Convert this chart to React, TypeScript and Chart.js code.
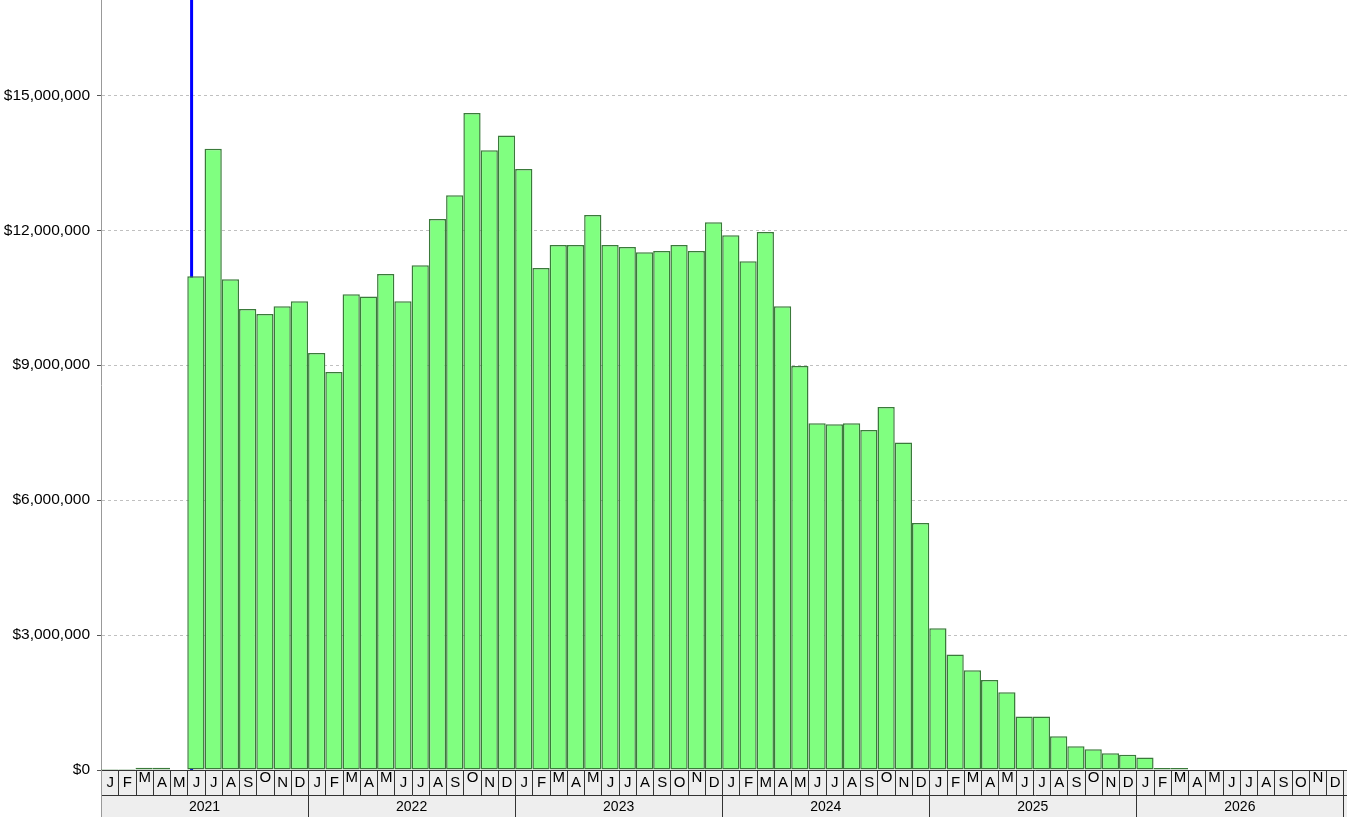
import { useEffect, useRef } from "react";
import { Chart, registerables } from "chart.js";

Chart.register(...registerables);

const years = ["2021", "2022", "2023", "2024", "2025", "2026"];
const monthLetters = ["J", "F", "M", "A", "M", "J", "J", "A", "S", "O", "N", "D"];

const values2021 = [20000, 20000, 50000, 50000, 10000, 10980000, 13810000, 10910000, 10250000, 10140000, 10310000, 10420000];
const values2022 = [9270000, 8850000, 10580000, 10530000, 11030000, 10420000, 11220000, 12250000, 12780000, 14610000, 13780000, 14110000];
const values2023 = [13360000, 11160000, 11670000, 11670000, 12340000, 11670000, 11630000, 11510000, 11540000, 11670000, 11540000, 12180000];
const values2024 = [11890000, 11310000, 11960000, 10310000, 8980000, 7710000, 7690000, 7710000, 7560000, 8070000, 7280000, 5490000];
const values2025 = [3150000, 2570000, 2220000, 2000000, 1730000, 1190000, 1190000, 750000, 530000, 460000, 370000, 340000];
const values2026 = [280000, 45000, 45000, 0, 0, 0, 0, 0, 0, 0, 0, 0];

const yTickValues = [0, 3000000, 6000000, 9000000, 12000000, 15000000];
const yMax = 17120000;
const xMaxMonths = 72.21;
const markerMonth = 5.25;
// month labels that the reference draws nudged upward
const raisedLabelIndexes = [2, 9, 14, 16, 21, 26, 28, 34, 45, 50, 52, 57, 62, 64, 70];

const allValues = [...values2021, ...values2022, ...values2023, ...values2024, ...values2025, ...values2026];

const FONT = '"Liberation Sans", Arial, Helvetica, sans-serif';

const markerPlugin = {
  id: "markerLine",
  beforeDatasetsDraw(chart: any) {
    const { ctx, chartArea } = chart;
    const xs = chart.scales.x;
    const px = xs.getPixelForValue(markerMonth);
    ctx.save();
    ctx.strokeStyle = "#0000ff";
    ctx.lineWidth = 3;
    ctx.beginPath();
    ctx.moveTo(px, chartArea.top);
    ctx.lineTo(px, chartArea.bottom);
    ctx.stroke();
    ctx.restore();
  },
};

const periodAxisPlugin = {
  id: "periodAxis",
  afterDraw(chart: any) {
    const { ctx, chartArea } = chart;
    const xs = chart.scales.x;
    const top = chartArea.bottom;
    const mid = top + 25;
    const bottom = chart.height;
    const left = chartArea.left;
    const right = chart.width;
    ctx.save();
    ctx.beginPath();
    ctx.rect(left, top, right - left, bottom - top);
    ctx.clip();
    ctx.fillStyle = "#eeeeee";
    ctx.fillRect(left, top, right - left, bottom - top);

    ctx.strokeStyle = "#333333";
    ctx.lineWidth = 1;
    ctx.beginPath();
    ctx.moveTo(left, Math.round(top) + 0.5);
    ctx.lineTo(right, Math.round(top) + 0.5);
    ctx.moveTo(left, Math.round(mid) + 0.5);
    ctx.lineTo(right, Math.round(mid) + 0.5);
    ctx.stroke();

    const totalMonths = years.length * 12 + 1;
    ctx.font = "15px " + FONT;
    ctx.fillStyle = "#000000";
    ctx.textAlign = "center";
    ctx.textBaseline = "middle";
    for (let i = 0; i < totalMonths; i++) {
      const x0 = xs.getPixelForValue(i);
      const x1 = xs.getPixelForValue(i + 1);
      ctx.beginPath();
      ctx.moveTo(Math.round(x1) + 0.5, top);
      ctx.lineTo(Math.round(x1) + 0.5, mid);
      ctx.stroke();
      const letter = monthLetters[i % 12];
      const raised = raisedLabelIndexes.includes(i);
      ctx.fillText(letter, (x0 + x1) / 2 + 0.5, raised ? top + 8 : top + 12.5);
    }

    ctx.font = "14px " + FONT;
    for (let y = 0; y <= years.length; y++) {
      const x0 = xs.getPixelForValue(y * 12);
      const x1 = xs.getPixelForValue((y + 1) * 12);
      if (y > 0) {
        ctx.beginPath();
        ctx.moveTo(Math.round(x0) + 0.5, mid);
        ctx.lineTo(Math.round(x0) + 0.5, bottom);
        ctx.stroke();
      }
      if (y < years.length) {
        ctx.fillText(years[y], (x0 + x1) / 2, mid + 12);
      }
    }
    ctx.restore();

    ctx.save();
    ctx.strokeStyle = "#999999";
    ctx.lineWidth = 1;
    ctx.beginPath();
    ctx.moveTo(left + 0.5, top);
    ctx.lineTo(left + 0.5, bottom);
    ctx.stroke();
    ctx.restore();
  },
};

export default function App() {
  const canvasRef = useRef<HTMLCanvasElement | null>(null);

  useEffect(() => {
    const canvas = canvasRef.current;
    if (!canvas) return;
    const chart = new Chart(canvas, {
      type: "bar",
      data: {
        datasets: [
          {
            label: "Amount",
            data: allValues.map((v, i) => ({ x: i + 0.5, y: v })),
            backgroundColor: "#80ff80",
            borderColor: "#3a7a3a",
            borderWidth: 1.5,
            borderSkipped: false,
            barPercentage: 1,
            categoryPercentage: 1,
            inflateAmount: 0,
          },
        ],
      },
      plugins: [markerPlugin, periodAxisPlugin],
      options: {
        animation: false,
        responsive: false,
        devicePixelRatio: 1,
        layout: { padding: { left: 0, right: 0, top: 0, bottom: 47 } },
        plugins: {
          legend: { display: false },
          tooltip: { enabled: false },
        },
        scales: {
          x: {
            type: "linear",
            min: 0,
            max: xMaxMonths,
            offset: false,
            display: false,
            grid: { display: false },
          },
          y: {
            type: "linear",
            min: 0,
            max: yMax,
            afterFit(scale: any) {
              scale.width = 101;
              scale.paddingTop = 0;
              scale.paddingBottom = 0;
            },
            afterBuildTicks(scale: any) {
              scale.ticks = yTickValues.map((v) => ({ value: v }));
            },
            ticks: {
              color: "#000000",
              padding: 7,
              font: { family: FONT, size: 15.5 },
              callback: (v: any) => "$" + Number(v).toLocaleString("en-US"),
            },
            grid: {
              color: "#c0c0c0",
              lineWidth: 1,
              drawTicks: true,
              tickLength: 4,
              tickColor: "#555555",
              tickBorderDash: [],
            },
            border: { display: true, color: "#999999", width: 1, dash: [3, 3] },
          },
        },
      },
    });
    return () => chart.destroy();
  }, []);

  return (
    <div style={{ position: "fixed", left: 0, top: 0, width: 1347, height: 817, background: "#ffffff" }}>
      <canvas ref={canvasRef} width={1347} height={817} style={{ display: "block", width: 1347, height: 817 }} />
    </div>
  );
}
